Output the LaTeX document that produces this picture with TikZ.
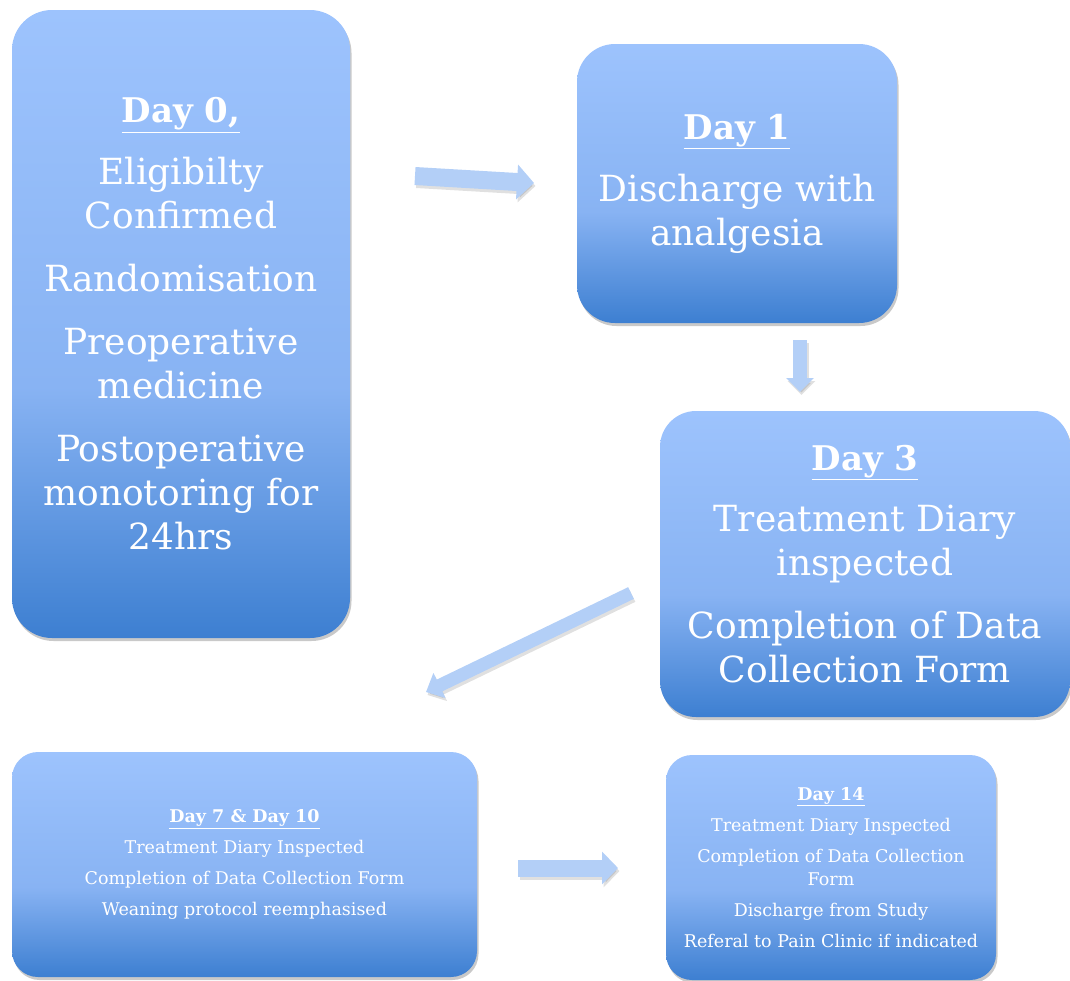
\documentclass[tikz,border=0pt]{standalone}
\usepackage{fontspec}
\setmainfont{DejaVu Serif}
\usetikzlibrary{shadows,arrows.meta}
\definecolor{boxtop}{HTML}{9DC3FD}
\definecolor{boxmid}{HTML}{88B3F3}
\definecolor{boxbot}{HTML}{3D7FD1}
\definecolor{arrowfill}{HTML}{B3CFF7}
\pgfdeclareverticalshading{boxshade}{100bp}{color(0bp)=(boxbot); color(25bp)=(boxbot); color(45bp)=(boxmid); color(75bp)=(boxtop); color(100bp)=(boxtop)}
\tikzset{
  daybox/.style={shade, shading=boxshade, text=white, align=center, inner sep=0pt,
    drop shadow={shadow xshift=1.5pt, shadow yshift=-3pt, opacity=0.3, fill=black!70}},
  big/.style={font=\fontsize{36}{44}\selectfont},
  small/.style={font=\fontsize{17.5}{23}\selectfont},
  blockarrow/.style={draw=arrowfill, line width=#1},
  arrowshadow/.style={draw=black, opacity=0.12, line width=#1}
}
\newcommand{\bighead}[1]{\underline{\textbf{\fontsize{34}{44}\selectfont #1}}}
\newcommand{\smallhead}[1]{\underline{\textbf{#1}}}
\begin{document}
\begin{tikzpicture}[x=1pt,y=-1pt]
\useasboundingbox (0,0) rectangle (1070,980);
% boxes
\node[daybox, big, minimum width=338pt, minimum height=628pt, rounded corners=40pt] (d0) at (181,324)
  {\bighead{Day 0,}\\[18pt] Eligibilty\\ Confirmed\\[19pt] Randomisation\\[19pt] Preoperative\\ medicine\\[19pt] Postoperative\\ monotoring for\\ 24hrs};
\node[daybox, big, minimum width=320pt, minimum height=279pt, rounded corners=38pt] (d1) at (737,183.5)
  {\bighead{Day 1}\\[18pt] Discharge with\\ analgesia};
\node[daybox, big, minimum width=410pt, minimum height=306pt, rounded corners=36pt] (d3) at (865,564)
  {\bighead{Day 3}\\[17pt] Treatment Diary\\ inspected\\[19pt] Completion of Data\\ Collection Form};
\node[daybox, small, minimum width=465pt, minimum height=225pt, rounded corners=26pt] (d7) at (244.5,864.5)
  {\smallhead{Day 7 \& Day 10}\\[8pt] Treatment Diary Inspected\\[8pt] Completion of Data Collection Form\\[8pt] Weaning protocol reemphasised};
\node[daybox, small, minimum width=330pt, minimum height=225pt, rounded corners=26pt] (d14) at (831,867.5)
  {\smallhead{Day 14}\\[8pt] Treatment Diary Inspected\\[8pt] Completion of Data Collection\\ Form\\[8pt] Discharge from Study\\[8pt] Referal to Pain Clinic if indicated};
% arrow end points
\coordinate (a1s) at (415,176);
\coordinate (a1e) at (534,183);
\coordinate (a2s) at (800,340);
\coordinate (a2e) at (800,392);
\coordinate (a3s) at (631,593);
\coordinate (a3e) at (426,692);
\coordinate (a4s) at (518,868);
\coordinate (a4e) at (618,868);
% shadows of arrows
\draw[arrowshadow=18pt, -{Triangle[length=17pt,width=34pt]}] ([shift={(1.5,3)}]a1s) -- ([shift={(1.5,3)}]a1e);
\draw[arrowshadow=14pt, -{Triangle[length=14pt,width=27pt]}] ([shift={(1.5,3)}]a2s) -- ([shift={(1.5,3)}]a2e);
\draw[arrowshadow=13pt, -{Triangle[length=15pt,width=27pt]}] ([shift={(1.5,3)}]a3s) -- ([shift={(1.5,3)}]a3e);
\draw[arrowshadow=17pt, -{Triangle[length=16pt,width=32pt]}] ([shift={(1.5,3)}]a4s) -- ([shift={(1.5,3)}]a4e);
% arrows
\draw[blockarrow=18pt, -{Triangle[length=17pt,width=34pt,fill=arrowfill]}] (a1s) -- (a1e);
\draw[blockarrow=14pt, -{Triangle[length=14pt,width=27pt,fill=arrowfill]}] (a2s) -- (a2e);
\draw[blockarrow=13pt, -{Triangle[length=15pt,width=27pt,fill=arrowfill]}] (a3s) -- (a3e);
\draw[blockarrow=17pt, -{Triangle[length=16pt,width=32pt,fill=arrowfill]}] (a4s) -- (a4e);
\end{tikzpicture}
\end{document}
